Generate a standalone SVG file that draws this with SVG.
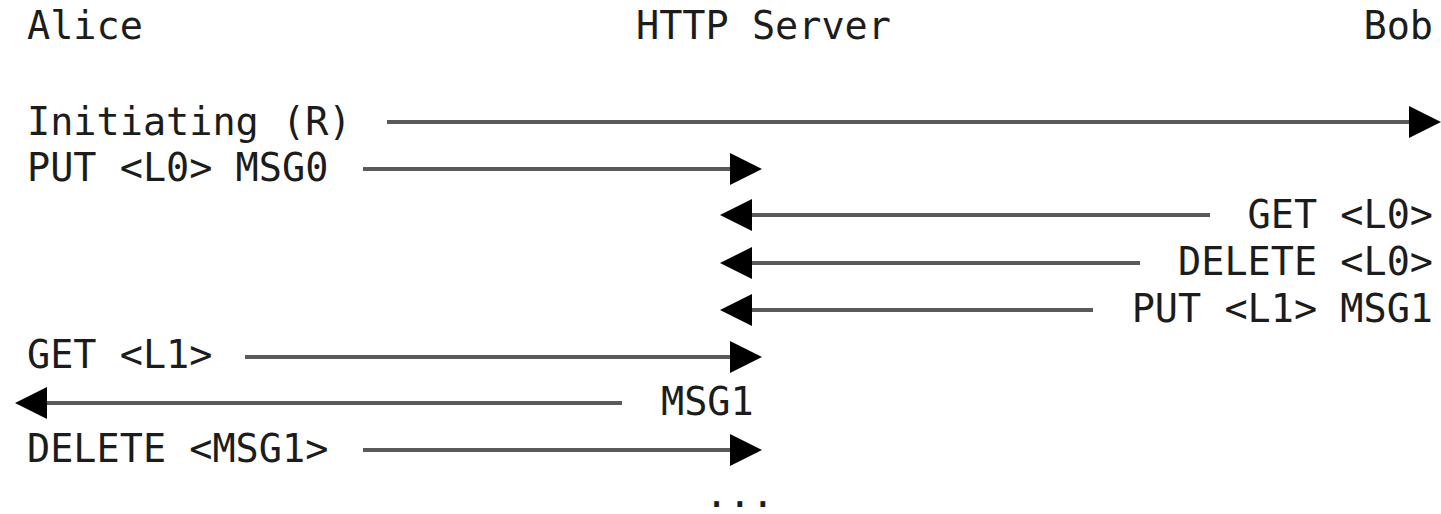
<svg xmlns="http://www.w3.org/2000/svg" width="1441" height="514" viewBox="0 0 1441 514">
<style>
text{font-family:"DejaVu Sans Mono","Liberation Mono",monospace;font-size:38.5px;fill:#1c1c1c}
.r{text-anchor:end}
line{stroke:#5a5a5a;stroke-width:4}
</style>
<defs>
<marker id="ah" viewBox="0 0 32 32" refX="0" refY="16" markerWidth="32" markerHeight="32" markerUnits="userSpaceOnUse" orient="auto">
<path d="M0,0 L32,16 L0,32 Z" fill="#000"/>
</marker>
</defs>
<rect width="1441" height="514" fill="#fff"/>
<g id="alice"><text x="27" y="39">Alice</text></g>
<g id="server"><text x="636" y="39">HTTP Server</text></g>
<g id="bob"><text class="r" x="1433" y="39">Bob</text></g>
<g id="labels">
<text x="27" y="135">Initiating (R)</text>
<text x="27" y="181">PUT &lt;L0&gt; MSG0</text>
<text class="r" x="1433" y="228">GET &lt;L0&gt;</text>
<text class="r" x="1433" y="275">DELETE &lt;L0&gt;</text>
<text class="r" x="1433" y="322">PUT &lt;L1&gt; MSG1</text>
<text x="27" y="368">GET &lt;L1&gt;</text>
<text x="661" y="415">MSG1</text>
<text x="27" y="462">DELETE &lt;MSG1&gt;</text>
<text x="705" y="507">...</text>
</g>
<g id="connectors">
<line x1="387" y1="122" x2="1409" y2="122" marker-end="url(#ah)"/>
<line x1="363" y1="169" x2="730" y2="169" marker-end="url(#ah)"/>
<line x1="1210" y1="215" x2="752" y2="215" marker-end="url(#ah)"/>
<line x1="1140" y1="263" x2="752" y2="263" marker-end="url(#ah)"/>
<line x1="1093" y1="310" x2="752" y2="310" marker-end="url(#ah)"/>
<line x1="245" y1="357" x2="730" y2="357" marker-end="url(#ah)"/>
<line x1="622" y1="403" x2="47" y2="403" marker-end="url(#ah)"/>
<line x1="363" y1="450" x2="730" y2="450" marker-end="url(#ah)"/>
</g>
</svg>
